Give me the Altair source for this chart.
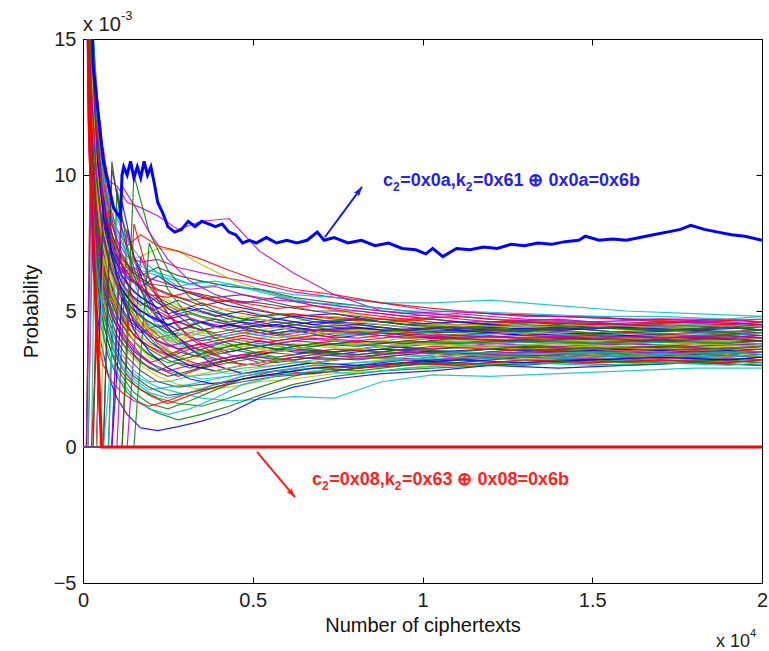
import altair as alt
import pandas as pd

# ---------------- data (probabilities in units of 1e-3) ----------------
x_grid = [0, 150, 300, 500, 750, 1000, 1300, 1700, 2200, 2800, 3500, 4300,
          5200, 6200, 7400, 8800, 10300, 12000, 14000, 16000, 18000, 20000]

line_00 = [30, 18, 12, 9.0, 7.5, 6.8, 6.2, 5.9, 6.3, 5.8, 5.5, 5.2, 5.0, 4.8, 4.9, 4.6, 4.4, 4.3, 4.4, 4.2, 4.3, 4.2]
line_01 = [30, 16, 10, 7.2, 5.6, 4.8, 4.2, 3.6, 3.2, 3.5, 3.3, 3.6, 3.4, 3.7, 3.5, 3.6, 3.8, 3.7, 3.6, 3.8, 3.7, 3.8]
line_02 = [0, 0, 9, 7.0, 5.4, 4.6, 4.0, 3.4, 2.9, 2.6, 2.9, 3.1, 3.0, 3.3, 3.2, 3.4, 3.5, 3.4, 3.6, 3.5, 3.6, 3.5]
line_03 = [30, 14, 8.5, 5.6, 4.2, 3.4, 2.9, 2.5, 2.2, 2.0, 1.8, 1.7, 1.75, 1.85, 1.8, 2.4, 2.65, 2.6, 2.7, 2.8, 2.9, 2.9]
line_04 = [30, 20, 14, 10.5, 8.5, 7.6, 7.0, 6.8, 6.9, 6.6, 6.4, 6.2, 6.0, 5.7, 5.5, 5.3, 5.0, 4.9, 4.8, 4.7, 4.7, 4.6]
line_05 = [30, 19, 13, 9.8, 7.9, 7.2, 6.9, 7.0, 7.3, 7.2, 6.7, 6.2, 5.8, 5.4, 5.0, 4.7, 4.5, 4.5, 4.3, 4.4, 4.2, 4.3]
line_06 = [30, 17, 11, 8.0, 6.3, 5.4, 4.8, 4.4, 4.0, 4.2, 3.9, 4.1, 4.3, 4.0, 4.2, 4.1, 4.0, 4.1, 3.9, 4.0, 3.9, 4.0]
line_07 = [30, 12, 6.5, 4.0, 2.6, 1.8, 1.2, 0.7, 0.6, 0.75, 0.95, 1.25, 1.8, 2.2, 2.5, 2.7, 2.8, 3.0, 2.9, 3.0, 3.1, 3.0]
line_08 = [30, 18, 12.5, 9.2, 7.4, 6.4, 5.7, 5.2, 5.5, 5.1, 4.8, 4.6, 4.7, 4.5, 4.3, 4.4, 4.2, 4.3, 4.1, 4.2, 4.1, 4.2]
line_09 = [0, 0, 0, 12, 8.6, 6.8, 5.6, 4.6, 3.8, 3.3, 3.0, 3.2, 3.5, 3.4, 3.6, 3.5, 3.7, 3.6, 3.7, 3.6, 3.8, 3.7]
line_10 = [30, 21, 15, 11.5, 9.5, 8.4, 7.6, 6.9, 6.4, 5.9, 6.1, 5.9, 5.8, 5.6, 5.5, 5.3, 5.3, 5.4, 5.2, 5.0, 4.9, 4.8]
line_11 = [30, 16, 10.5, 7.6, 6.0, 5.2, 4.6, 4.2, 4.5, 4.1, 4.3, 4.0, 3.8, 4.0, 3.9, 3.7, 3.9, 3.8, 3.9, 3.8, 3.9, 3.9]
line_12 = [0, 0, 0, 0, 10, 7.5, 6.0, 4.8, 3.9, 3.3, 2.9, 2.7, 2.9, 3.1, 3.0, 3.2, 3.1, 3.3, 3.2, 3.4, 3.3, 3.4]
line_13 = [30, 19, 13, 9.5, 7.7, 6.9, 6.6, 6.2, 5.8, 5.5, 5.2, 5.4, 5.3, 5.1, 4.9, 4.7, 4.5, 4.3, 4.4, 4.2, 4.3, 4.1]
line_14 = [30, 17, 11.5, 8.4, 6.8, 6.0, 5.3, 4.8, 4.4, 4.6, 4.3, 4.5, 4.2, 4.4, 4.1, 4.2, 4.0, 4.2, 4.0, 4.1, 4.0, 4.1]
line_15 = [30, 13, 7.5, 4.6, 3.3, 2.6, 2.0, 1.6, 1.25, 1.0, 1.2, 1.5, 1.9, 2.3, 2.6, 2.8, 2.9, 3.0, 3.1, 3.0, 3.1, 3.0]
line_16 = [30, 20, 14.5, 11, 9.0, 8.0, 7.4, 7.8, 7.4, 7.2, 6.9, 6.5, 6.1, 5.8, 5.6, 5.3, 5.1, 4.9, 4.8, 4.7, 4.6, 4.7]
line_17 = [0, 0, 11, 8.5, 6.7, 5.9, 5.2, 4.6, 4.1, 3.8, 4.0, 3.7, 3.9, 3.6, 3.8, 3.7, 3.8, 3.7, 3.8, 3.7, 3.6, 3.7]
line_18 = [30, 18, 12, 8.8, 7.1, 6.2, 5.5, 5.0, 4.6, 4.9, 4.6, 4.4, 4.6, 4.3, 4.5, 4.3, 4.4, 4.2, 4.3, 4.1, 4.2, 4.3]
line_19 = [30, 15, 9.5, 6.6, 5.0, 4.1, 3.5, 3.0, 2.6, 2.3, 2.1, 2.2, 2.4, 2.5, 2.7, 2.8, 3.0, 3.1, 3.2, 3.3, 3.2, 3.3]
line_20 = [30, 19.5, 13.5, 10.2, 8.2, 7.3, 6.7, 6.3, 6.6, 6.3, 6.1, 5.9, 5.8, 5.5, 5.3, 5.1, 4.9, 4.7, 4.6, 4.5, 4.4, 4.4]
line_21 = [30, 16.5, 10.8, 7.8, 6.2, 5.3, 4.7, 4.3, 3.9, 3.6, 3.8, 3.5, 3.7, 3.5, 3.4, 3.6, 3.5, 3.6, 3.5, 3.6, 3.5, 3.6]
line_22 = [0, 0, 0, 0, 0, 9.5, 7.4, 5.8, 4.7, 3.9, 3.4, 3.1, 3.3, 3.2, 3.4, 3.3, 3.5, 3.4, 3.5, 3.4, 3.5, 3.4]
line_23 = [30, 18.5, 12.8, 9.6, 7.8, 7.0, 6.4, 5.9, 5.4, 5.0, 5.3, 5.0, 4.8, 4.9, 4.7, 4.6, 4.7, 4.5, 4.6, 4.5, 4.6, 4.5]
line_24 = [30, 15.5, 10, 7.0, 5.3, 4.4, 3.8, 3.3, 2.9, 2.7, 2.5, 2.6, 2.8, 3.0, 3.2, 3.4, 3.3, 3.5, 3.4, 3.5, 3.4, 3.5]
line_25 = [0, 0, 0, 0, 0, 0, 8.0, 6.0, 4.8, 4.0, 3.5, 3.2, 3.4, 3.6, 3.5, 3.7, 3.6, 3.8, 3.7, 3.8, 3.7, 3.8]
line_26 = [30, 19, 13.2, 9.9, 8.0, 7.1, 6.5, 6.0, 5.6, 5.2, 4.9, 5.1, 4.9, 4.6, 4.8, 4.6, 4.5, 4.4, 4.5, 4.3, 4.4, 4.4]
line_27 = [30, 14.5, 9, 6.2, 4.7, 3.9, 3.3, 2.8, 2.4, 2.2, 2.3, 2.4, 2.6, 2.7, 2.8, 3.0, 3.2, 3.3, 3.4, 3.3, 3.4, 3.3]
line_28 = [30, 17.5, 11.8, 8.6, 6.9, 6.1, 5.5, 5.0, 4.7, 4.3, 4.6, 4.3, 4.1, 4.3, 4.0, 4.2, 4.1, 3.9, 4.0, 3.9, 4.0, 3.9]
line_29 = [0, 0, 0, 10.5, 7.8, 6.3, 5.3, 4.4, 3.7, 3.3, 3.6, 3.9, 3.7, 3.9, 3.8, 3.9, 3.8, 3.9, 3.8, 3.9, 3.8, 3.9]
line_30 = [30, 16, 10.2, 7.4, 5.8, 5.0, 4.4, 3.9, 3.5, 3.2, 3.4, 3.7, 3.9, 3.7, 3.9, 3.8, 4.0, 3.9, 4.0, 3.9, 4.0, 3.9]
line_31 = [30, 20.5, 14.2, 10.8, 8.8, 7.8, 7.1, 6.5, 6.3, 6.1, 5.9, 6.0, 5.7, 5.4, 5.2, 5.0, 4.9, 4.7, 4.6, 4.6, 4.5, 4.5]
line_32 = [0, 0, 0, 0, 0, 0, 0, 7.0, 5.4, 4.4, 3.8, 3.4, 3.1, 3.3, 3.2, 3.3, 3.2, 3.4, 3.3, 3.2, 3.3, 3.2]
line_33 = [30, 17, 11.2, 8.2, 6.6, 5.8, 5.1, 4.6, 4.2, 3.9, 4.2, 4.0, 4.2, 4.0, 4.2, 4.0, 4.1, 4.0, 4.1, 4.0, 4.1, 4.0]
line_34 = [30, 15, 9.2, 6.4, 4.9, 4.1, 3.6, 3.1, 2.8, 3.1, 2.9, 3.2, 3.4, 3.6, 3.5, 3.7, 3.6, 3.7, 3.6, 3.7, 3.6, 3.7]
line_35 = [30, 19, 13, 9.8, 8.0, 7.0, 6.3, 5.8, 5.3, 4.9, 5.1, 4.8, 4.6, 4.8, 4.6, 4.5, 4.3, 4.4, 4.3, 4.4, 4.3, 4.4]
line_36 = [30, 13.5, 8, 5.1, 3.8, 3.0, 2.5, 2.1, 1.8, 1.6, 1.5, 1.8, 2.2, 2.6, 2.9, 3.0, 3.1, 3.0, 3.2, 3.1, 3.2, 3.1]
line_37 = [30, 18, 12.2, 9.0, 7.2, 6.3, 5.7, 5.3, 5.0, 4.6, 4.3, 4.5, 4.3, 4.1, 4.3, 4.2, 4.1, 4.2, 4.1, 4.2, 4.1, 4.2]
line_38 = [0, 0, 0, 0, 0, 8.8, 6.8, 5.4, 4.4, 3.8, 3.4, 3.6, 3.8, 3.6, 3.8, 3.7, 3.9, 3.8, 3.9, 3.8, 3.9, 3.8]
line_39 = [30, 21, 15, 11.5, 9.8, 9.6, 9.0, 8.8, 8.5, 8.0, 8.3, 8.4, 7.2, 6.4, 5.6, 5.0, 4.8, 4.6, 4.7, 4.5, 4.6, 4.5]
line_40 = [30, 16.8, 11, 8.0, 6.4, 5.6, 5.0, 4.5, 4.1, 3.7, 3.5, 3.8, 3.6, 3.8, 3.7, 3.9, 3.8, 3.7, 3.8, 3.7, 3.8, 3.7]
line_41 = [30, 18.8, 12.9, 9.4, 7.5, 6.6, 6.0, 5.5, 5.1, 5.4, 5.0, 4.7, 4.4, 4.6, 4.4, 4.3, 4.2, 4.3, 4.2, 4.1, 4.2, 4.1]

x_grid_b = [0, 100, 250, 400, 600, 850, 1150, 1500, 1950, 2500, 3150, 3900,
            4700, 5700, 6800, 8100, 9500, 11000, 13000, 15000, 17000, 19000, 20000]

more_00 = [30, 22, 14, 10.5, 8.2, 6.9, 6.0, 5.5, 5.1, 4.7, 4.9, 4.6, 4.4, 4.5, 4.3, 4.4, 4.2, 4.3, 4.1, 4.2, 4.0, 4.1, 4.0]
more_01 = [0, 0, 12, 9.0, 7.0, 5.7, 4.8, 4.1, 3.6, 3.2, 2.9, 3.2, 3.4, 3.3, 3.5, 3.4, 3.5, 3.4, 3.6, 3.5, 3.4, 3.5, 3.4]
more_02 = [30, 24, 16, 12.5, 9.8, 8.2, 7.1, 6.3, 5.9, 5.6, 5.4, 5.5, 5.2, 4.9, 4.8, 4.7, 4.7, 4.5, 4.6, 4.5, 4.4, 4.5, 4.4]
more_03 = [30, 19, 11, 7.6, 5.5, 4.2, 3.4, 2.8, 2.4, 2.4, 2.6, 2.7, 2.9, 3.0, 3.2, 3.3, 3.5, 3.4, 3.3, 3.4, 3.5, 3.4, 3.5]
more_04 = [0, 0, 0, 0, 11, 8.4, 6.6, 5.3, 4.4, 3.8, 3.4, 3.2, 3.4, 3.6, 3.5, 3.4, 3.6, 3.5, 3.7, 3.6, 3.7, 3.6, 3.7]
more_05 = [30, 21, 13, 9.6, 7.4, 6.2, 5.4, 4.8, 4.4, 4.0, 4.3, 4.1, 3.9, 4.1, 4.0, 3.8, 4.0, 3.9, 4.0, 3.9, 4.0, 3.9, 4.0]
more_06 = [30, 23, 15.5, 11.8, 9.2, 7.8, 6.9, 6.4, 6.0, 5.9, 5.7, 5.5, 5.6, 5.3, 5.0, 5.0, 4.8, 4.6, 4.6, 4.4, 4.5, 4.4, 4.5]
more_07 = [0, 0, 0, 0, 0, 0, 9.0, 7.0, 5.5, 4.4, 3.6, 3.0, 2.7, 2.9, 3.1, 3.0, 3.2, 3.1, 3.3, 3.2, 3.3, 3.2, 3.3]
more_08 = [30, 20, 12, 8.6, 6.5, 5.3, 4.5, 3.9, 3.4, 3.1, 3.3, 3.6, 3.8, 3.6, 3.8, 3.7, 3.9, 3.8, 3.9, 3.8, 3.9, 3.8, 3.9]
more_09 = [30, 18, 10, 6.8, 4.9, 3.7, 2.9, 2.3, 1.9, 1.6, 1.9, 2.2, 2.5, 2.8, 2.7, 2.9, 3.1, 3.0, 3.2, 3.1, 3.2, 3.1, 3.2]
more_10 = [0, 0, 0, 13, 9.5, 7.5, 6.1, 5.2, 4.5, 4.0, 4.2, 4.0, 4.2, 4.0, 4.2, 4.1, 4.3, 4.1, 4.2, 4.1, 4.2, 4.1, 4.2]
more_11 = [30, 22.5, 15, 11.2, 8.8, 7.4, 6.4, 6.6, 6.2, 6.0, 5.8, 5.9, 5.6, 5.4, 5.3, 5.1, 4.9, 5.0, 4.8, 4.8, 4.6, 4.7, 4.6]
more_12 = [30, 20.5, 12.5, 9.1, 6.9, 5.7, 4.9, 4.3, 3.8, 3.5, 3.2, 3.5, 3.7, 3.5, 3.7, 3.6, 3.8, 3.7, 3.6, 3.7, 3.6, 3.7, 3.6]
more_13 = [0, 0, 0, 0, 0, 10.5, 8.0, 6.3, 5.1, 4.3, 3.7, 3.4, 3.6, 3.8, 3.7, 3.9, 3.8, 4.0, 3.9, 4.0, 3.9, 4.0, 3.9]
more_14 = [30, 21.5, 13.5, 10, 7.8, 6.6, 5.8, 5.2, 4.8, 4.5, 4.7, 4.4, 4.6, 4.4, 4.6, 4.5, 4.3, 4.4, 4.3, 4.4, 4.3, 4.4, 4.3]
more_15 = [30, 17, 9.5, 6.3, 4.5, 3.4, 2.6, 2.0, 1.6, 1.4, 1.7, 2.1, 2.5, 2.7, 2.9, 2.8, 3.0, 3.1, 3.0, 3.2, 3.1, 3.2, 3.1]
more_16 = [0, 0, 0, 0, 0, 0, 0, 8.2, 6.2, 4.9, 4.0, 3.4, 3.0, 3.2, 3.4, 3.3, 3.5, 3.4, 3.6, 3.5, 3.6, 3.5, 3.6]
more_17 = [30, 23.5, 16.5, 12.8, 10, 8.5, 7.5, 6.8, 6.5, 6.3, 6.0, 6.1, 5.9, 5.6, 5.3, 5.2, 5.0, 5.0, 4.9, 4.8, 4.8, 4.7, 4.8]
more_18 = [30, 19.5, 11.8, 8.3, 6.2, 5.0, 4.2, 3.6, 3.1, 2.8, 3.0, 3.2, 3.4, 3.2, 3.4, 3.3, 3.5, 3.4, 3.5, 3.4, 3.5, 3.4, 3.5]
more_19 = [0, 0, 14, 10.5, 8.0, 6.6, 5.6, 4.9, 4.3, 3.9, 4.1, 4.4, 4.2, 4.4, 4.2, 4.3, 4.2, 4.4, 4.3, 4.2, 4.3, 4.2, 4.3]
more_20 = [30, 18.5, 10.5, 7.2, 5.2, 4.0, 3.2, 2.6, 2.2, 1.9, 2.0, 2.2, 2.4, 2.6, 2.7, 2.9, 3.0, 3.2, 3.3, 3.4, 3.3, 3.4, 3.3]
more_21 = [30, 22, 14.5, 10.8, 8.5, 7.2, 6.3, 5.7, 5.3, 4.9, 5.1, 4.8, 5.0, 4.7, 4.5, 4.7, 4.5, 4.6, 4.4, 4.5, 4.4, 4.5, 4.4]
more_22 = [0, 0, 0, 0, 0, 0, 0, 0, 7.5, 5.8, 4.7, 4.0, 3.6, 3.3, 3.5, 3.4, 3.6, 3.5, 3.7, 3.6, 3.7, 3.6, 3.7]
more_23 = [30, 20, 12.2, 8.8, 6.7, 5.5, 4.7, 4.1, 3.7, 3.4, 3.7, 3.9, 4.1, 3.9, 4.1, 4.0, 4.2, 4.1, 4.0, 4.1, 4.0, 4.1, 4.0]
more_24 = [30, 16.5, 9, 5.9, 4.2, 3.1, 2.4, 1.8, 1.4, 1.2, 1.4, 1.8, 2.3, 2.6, 2.8, 2.7, 2.9, 3.0, 3.1, 3.0, 3.1, 3.0, 3.1]
more_25 = [0, 0, 10, 7.6, 5.9, 4.8, 4.1, 3.5, 3.1, 3.3, 3.6, 3.8, 4.0, 3.8, 4.0, 3.9, 4.1, 4.0, 4.1, 4.0, 4.1, 4.0, 4.1]
more_26 = [30, 22, 14, 10.3, 8.0, 6.8, 5.9, 5.3, 4.9, 5.2, 4.9, 4.6, 4.8, 4.6, 4.4, 4.6, 4.4, 4.5, 4.4, 4.5, 4.4, 4.5, 4.4]
more_27 = [30, 19, 11.4, 8.0, 6.0, 4.8, 4.0, 3.4, 2.9, 2.6, 2.8, 3.1, 3.3, 3.1, 3.3, 3.2, 3.4, 3.3, 3.4, 3.3, 3.4, 3.3, 3.4]
more_28 = [0, 0, 0, 0, 9.2, 7.0, 5.6, 4.6, 3.9, 3.4, 3.0, 2.8, 3.0, 3.2, 3.1, 3.3, 3.2, 3.4, 3.3, 3.4, 3.3, 3.4, 3.3]
more_29 = [30, 21, 13.2, 9.8, 7.6, 6.4, 5.6, 5.0, 4.6, 4.2, 4.4, 4.2, 4.4, 4.2, 4.3, 4.2, 4.3, 4.2, 4.3, 4.2, 4.3, 4.2, 4.3]
more_30 = [30, 23, 15.2, 11.5, 9.0, 7.6, 6.7, 6.1, 5.6, 5.5, 5.7, 5.4, 5.3, 5.1, 5.2, 4.9, 4.7, 4.8, 4.6, 4.5, 4.6, 4.5, 4.6]
more_31 = [30, 17.5, 9.8, 6.6, 4.8, 3.7, 3.0, 2.5, 2.1, 2.2, 2.3, 2.5, 2.7, 2.8, 2.9, 3.0, 3.3, 3.5, 3.4, 3.5, 3.4, 3.5, 3.4]
more_32 = [0, 0, 13, 10, 7.8, 6.4, 5.4, 4.7, 4.1, 3.7, 3.9, 4.1, 4.3, 4.1, 4.3, 4.2, 4.0, 4.1, 4.0, 4.1, 4.0, 4.1, 4.0]
more_33 = [0, 0, 0, 0, 7.0, 5.6, 4.6, 3.9, 3.3, 2.9, 2.6, 2.8, 3.0, 3.2, 3.1, 3.3, 3.2, 3.4, 3.3, 3.4, 3.3, 3.4, 3.3]
more_34 = [0, 0, 0, 0, 0, 10.2, 8.4, 7.0, 5.9, 5.1, 4.5, 4.7, 4.4, 4.6, 4.4, 4.5, 4.3, 4.4, 4.3, 4.4, 4.3, 4.4, 4.3]
more_35 = [0, 0, 0, 0, 0, 0, 5.5, 4.3, 3.5, 2.9, 2.5, 2.3, 2.5, 2.7, 2.9, 3.0, 3.1, 3.2, 3.1, 3.2, 3.3, 3.2, 3.3]
more_36 = [0, 0, 0, 0, 0, 0, 0, 10, 7.9, 6.5, 5.5, 5.0, 4.7, 4.9, 4.6, 4.7, 4.5, 4.4, 4.5, 4.4, 4.3, 4.4, 4.3]
more_37 = [0, 0, 0, 4.0, 3.0, 2.4, 2.0, 1.7, 1.5, 1.7, 2.0, 2.3, 2.6, 2.8, 3.0, 2.9, 3.1, 3.0, 3.2, 3.1, 3.2, 3.1, 3.2]
more_38 = [0, 0, 0, 0, 0, 3.5, 2.9, 2.4, 2.0, 1.8, 2.0, 2.3, 2.6, 2.8, 3.0, 3.1, 3.2, 3.3, 3.2, 3.3, 3.4, 3.3, 3.4]
more_39 = [0, 0, 0, 0, 0, 0, 9.6, 8.9, 7.9, 6.9, 6.1, 5.6, 5.3, 5.5, 5.2, 5.0, 4.8, 4.9, 4.7, 4.6, 4.7, 4.6, 4.5]

bundle_a = [line_00, line_01, line_02, line_03, line_04, line_05, line_06, line_07,
            line_08, line_09, line_10, line_11, line_12, line_13, line_14, line_15,
            line_16, line_17, line_18, line_19, line_20, line_21, line_22, line_23,
            line_24, line_25, line_26, line_27, line_28, line_29, line_30, line_31,
            line_32, line_33, line_34, line_35, line_36, line_37, line_38, line_39,
            line_40, line_41]
bundle_b = [more_00, more_01, more_02, more_03, more_04, more_05, more_06, more_07,
            more_08, more_09, more_10, more_11, more_12, more_13, more_14, more_15,
            more_16, more_17, more_18, more_19, more_20, more_21, more_22, more_23,
            more_24, more_25, more_26, more_27, more_28, more_29, more_30, more_31,
            more_32, more_33, more_34, more_35, more_36, more_37, more_38, more_39]

# correct key candidate (c2=0x0a)
blue_x = [0, 300, 600, 900, 1100, 1150, 1200, 1300, 1400, 1500, 1600, 1700, 1800, 1900,
          2000, 2100, 2200, 2350, 2500, 2700, 2900, 3100, 3300, 3500, 3700, 3900, 4100,
          4300, 4500, 4700, 4900, 5100, 5400, 5700, 6000, 6300, 6600, 6900, 7100, 7400,
          7800, 8200, 8600, 9000, 9400, 9800, 10100, 10300, 10600, 11000, 11400, 11800,
          12200, 12600, 13000, 13400, 13800, 14200, 14600, 14800, 15200, 15600, 16000,
          16400, 16800, 17200, 17600, 17900, 18300, 18700, 19100, 19500, 20000]
blue_y = [30, 14, 10.5, 8.8, 8.4, 10.0, 10.3, 10.0, 10.5, 9.9, 10.3, 9.9, 10.5, 10.0,
          10.3, 9.7, 9.0, 8.6, 8.1, 7.9, 8.0, 8.3, 8.1, 8.3, 8.2, 8.1, 8.2,
          7.9, 7.8, 7.5, 7.6, 7.5, 7.7, 7.5, 7.6, 7.5, 7.6, 7.9, 7.6, 7.7,
          7.5, 7.6, 7.4, 7.5, 7.3, 7.25, 7.1, 7.3, 7.0, 7.3, 7.25, 7.35,
          7.3, 7.45, 7.4, 7.5, 7.45, 7.55, 7.6, 7.75, 7.6, 7.65, 7.6,
          7.7, 7.8, 7.9, 8.0, 8.15, 8.0, 7.9, 7.8, 7.75, 7.6]

# eliminated candidate (c2=0x08)
red_x = [0, 200, 400, 550, 20000]
red_y = [30, 11, 4.5, 0, 0]

# annotations: pieces alternate normal text / subscript
blue_pieces = ["c", "2", "=0x0a,k", "2", "=0x61 \u2295 0x0a=0x6b"]
red_pieces = ["c", "2", "=0x08,k", "2", "=0x63 \u2295 0x08=0x6b"]
blue_label_pos = (8836, 9.78)
red_label_pos = (6745, -1.21)
blue_arrow = (7128, 7.72, 8218, 9.56)
red_arrow = (5125, -0.18, 6244, -1.84)

x_ticks = [0, 5000, 10000, 15000, 20000]
y_ticks = [-5, 0, 5, 10, 15]

# ---------------- build tables ----------------
rows = []
sid_list = []
k = 0
for grid, group in ((x_grid, bundle_a), (x_grid_b, bundle_b)):
    for vals in group:
        sid = f"S{k:03d}"
        sid_list.append(sid)
        for xv, yv in zip(grid, vals):
            rows.append({"series": sid, "x": xv, "p": yv})
        k += 1
df_bundle = pd.DataFrame(rows)
df_blue = pd.DataFrame({"x": blue_x, "p": blue_y})
df_red = pd.DataFrame({"x": red_x, "p": red_y})

matlab = ["#0000ff", "#008000", "#ff0000", "#00bfbf", "#bf00bf", "#bfbf00", "#404040"]
color_range = [matlab[i % 7] for i in range(len(sid_list))]

FONT = "Liberation Sans"
xs = alt.Scale(domain=[0, 20000], nice=False, zero=False)
ys = alt.Scale(domain=[-5, 15], nice=False, zero=False)

x_axis = alt.Axis(values=x_ticks, labelExpr="datum.value / 10000 + ''",
                  title="Number of ciphertexts", ticks=False, grid=True,
                  gridDash=[6, 532], gridColor="#000000", gridOpacity=1, gridWidth=1,
                  labelFlush=False, labelPadding=7, titlePadding=5)
y_axis = alt.Axis(values=y_ticks, title="Probability", ticks=False, grid=True,
                  gridDash=[6, 667], gridColor="#000000", gridOpacity=1, gridWidth=1,
                  labelFlush=False, labelPadding=7, titlePadding=12)

X = alt.X("x:Q", scale=xs, axis=x_axis, title="Number of ciphertexts")
Y = alt.Y("p:Q", scale=ys, axis=y_axis, title="Probability")

lines = alt.Chart(df_bundle).mark_line(strokeWidth=1.2, opacity=0.85, clip=True).encode(
    x=X, y=Y,
    color=alt.Color("series:N", scale=alt.Scale(domain=sid_list, range=color_range), legend=None),
)

red_line = alt.Chart(df_red).mark_line(strokeWidth=3, color="#ff0000", clip=True).encode(x=X, y=Y)
blue_line = alt.Chart(df_blue).mark_line(strokeWidth=3, color="#0000ff", clip=True).encode(x=X, y=Y)


def arrow(coords, color, angle):
    d = pd.DataFrame({"x": [coords[0]], "p": [coords[1]], "x2": [coords[2]], "p2": [coords[3]]})
    shaft = alt.Chart(d).mark_rule(color=color, strokeWidth=2).encode(
        x=X, y=Y, x2="x2:Q", y2="p2:Q")
    tip = pd.DataFrame({"x": [coords[2]], "p": [coords[3]]})
    head = alt.Chart(tip).mark_point(shape="M0,0L-0.5,1.5L0,1.15L0.5,1.5Z", filled=True,
                                     opacity=1, color=color, size=170, angle=angle).encode(x=X, y=Y)
    return shaft + head


def label(pieces, pos, color):
    # main size 18 bold, subscripts 12 bold; offsets from Liberation Sans Bold advance widths
    layers = []
    dx = 0.0
    for i, t in enumerate(pieces):
        sub = (i % 2 == 1)
        size = 12 if sub else 18
        d = pd.DataFrame({"x": [pos[0]], "p": [pos[1]], "t": [t]})
        layers.append(alt.Chart(d).mark_text(
            align="left", baseline="middle", font=FONT, fontSize=size, fontWeight="bold",
            color=color, dx=dx, dy=6 if sub else 0).encode(x=X, y=Y, text="t:N"))
        if sub:
            dx += 0.556 * 12 + 0.5
        elif i == 0:
            dx += 0.556 * 18
        else:
            dx += 3.642 * 18
    return alt.layer(*layers)


def exp_text(text, px, py, size):
    d = pd.DataFrame({"t": [text]})
    return alt.Chart(d).mark_text(align="left", baseline="middle", font=FONT, fontSize=size,
                                  color="#222222").encode(
        x=alt.value(px), y=alt.value(py), text="t:N")


chart = alt.layer(
    lines, red_line, blue_line,
    arrow(blue_arrow, "#1a1aee", 36.5), arrow(red_arrow, "#ff1a1a", 139.8),
    label(blue_pieces, blue_label_pos, "#2a1fe6"), label(red_pieces, red_label_pos, "#ff2222"),
    exp_text("x 10", 0, -14, 20), exp_text("-3", 38, -23, 13),
    exp_text("x 10", 633, 603, 18), exp_text("4", 667, 595, 11),
).properties(
    width=679, height=544,
    autosize=alt.AutoSizeParams(type="none"),
    padding={"left": 83, "top": 39, "right": 7, "bottom": 68},
    background="white",
).configure_view(stroke="#000000", strokeWidth=1).configure_axis(
    labelFont=FONT, labelFontSize=20, labelColor="#222222",
    titleFont=FONT, titleFontSize=20, titleFontWeight="normal", titleColor="#111111",
    domainColor="#000000", domainWidth=1,
)

chart.save("out.html", embed_options={"renderer": "svg", "actions": False})
